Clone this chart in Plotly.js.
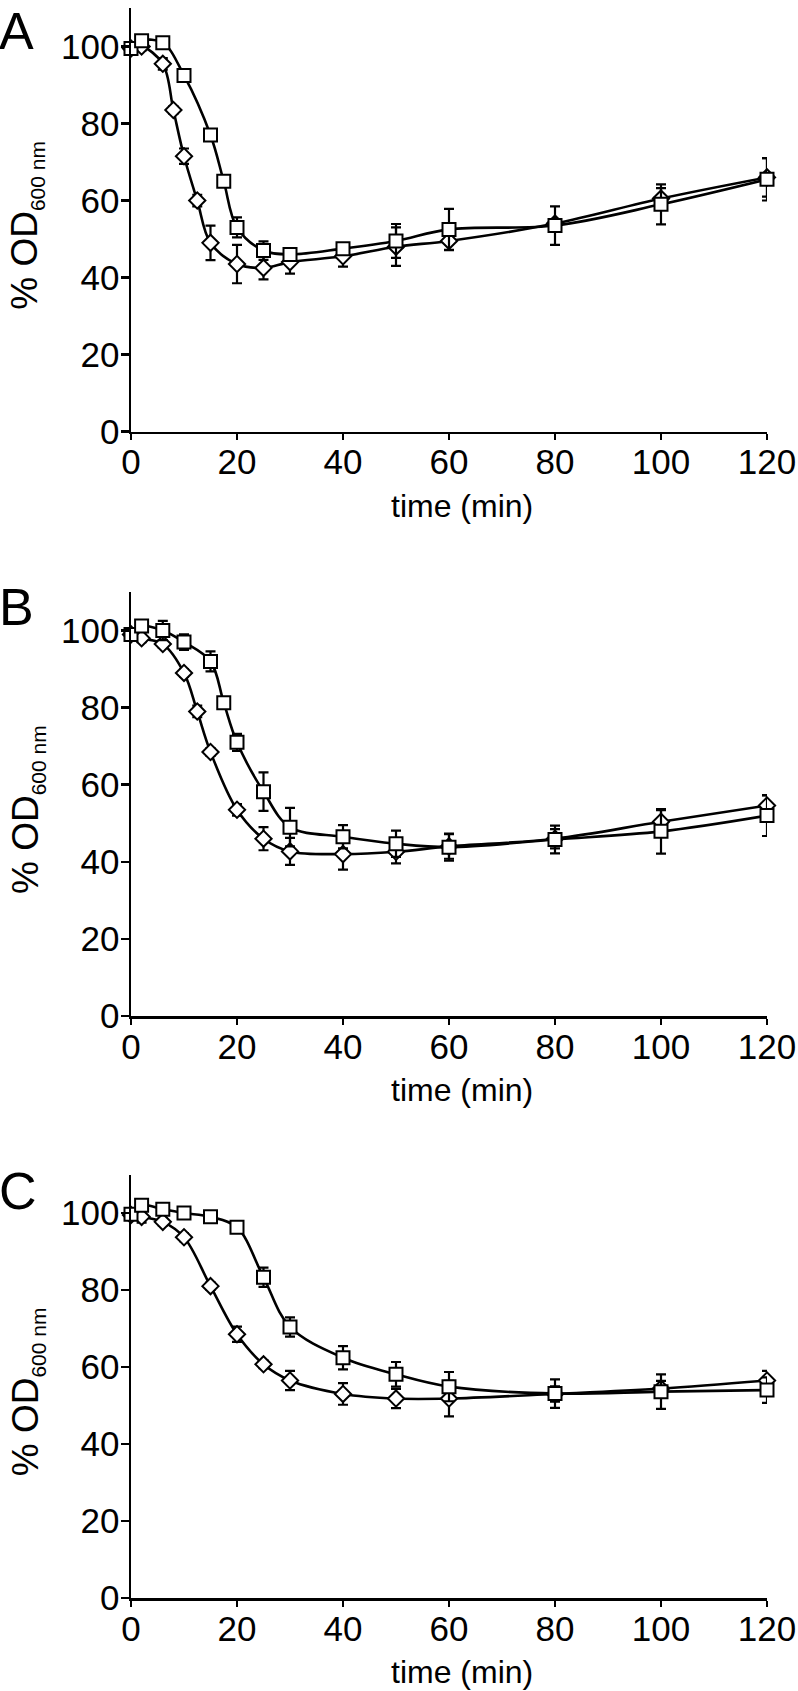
<!DOCTYPE html>
<html><head><meta charset="utf-8">
<script src="https://cdn.plot.ly/plotly-3.0.1.min.js"></script>
<style>html,body{margin:0;padding:0;background:#fff}#chart{width:798px;height:1691px}</style>
</head><body><div id="chart"></div>
<script>
// ---------- data ----------
const xTicks = [0, 20, 40, 60, 80, 100, 120];
const yTicks = [0, 20, 40, 60, 80, 100];
const panelLabels = ["A", "B", "C"];

// Panel A
const diamondA_t = [0, 2, 6, 8, 10, 12.5, 15, 20, 25, 30, 40, 50, 60, 80, 100, 120];
const diamondA_y = [99.5, 100, 95.5, 83.5, 71.5, 60, 49, 43.5, 42.5, 44, 45.5, 48, 49.5, 54, 60.5, 66];
const diamondA_e = [1.5, 1, 1.5, 1, 2, 1.5, 4.5, 5, 3, 3, 2.7, 5, 2.4, 1, 2.7, 5];
const squareA_t = [0, 2, 6, 10, 15, 17.5, 20, 25, 30, 40, 50, 60, 80, 100, 120];
const squareA_y = [99.5, 101.5, 101, 92.5, 77, 65, 53, 47, 46, 47.5, 49.5, 52.5, 53.5, 59, 65.5];
const squareA_e = [1, 1, 0.5, 0.5, 0.5, 0.5, 2.6, 2.4, 1.5, 1, 4.4, 5.3, 5, 5.2, 5.5];

// Panel B
const diamondB_t = [0, 2, 6, 10, 12.5, 15, 20, 25, 30, 40, 50, 60, 80, 100, 120];
const diamondB_y = [99, 98, 96.5, 89, 79, 68.5, 53.5, 46, 42.7, 42, 42.6, 44, 46, 50.4, 54.6];
const diamondB_e = [1, 1, 1, 1, 1.5, 1, 1.5, 3, 3.5, 4, 3, 3.2, 2.5, 3, 2.6];
const squareB_t = [0, 2, 6, 10, 15, 17.5, 20, 25, 30, 40, 50, 60, 80, 100, 120];
const squareB_y = [99, 101.2, 100, 97, 92, 81.3, 71, 58.2, 49, 46.5, 44.7, 43.8, 45.8, 47.9, 52];
const squareB_e = [0.8, 1, 2.5, 2, 2.6, 1, 2.2, 5, 5, 3, 3.4, 3.5, 3.6, 5.8, 5.3];

// Panel C
const diamondC_t = [0, 2, 6, 10, 15, 20, 25, 30, 40, 50, 60, 80, 100, 120];
const diamondC_y = [99.5, 99, 97.7, 93.7, 81, 68.5, 60.7, 56.5, 53, 51.8, 51.8, 53, 54.4, 56.5];
const diamondC_e = [1, 1.5, 1, 1, 1, 2, 1, 2.5, 2.8, 2.5, 4.6, 2, 2, 2.5];
const squareC_t = [0, 2, 6, 10, 15, 20, 25, 30, 40, 50, 60, 80, 100, 120];
const squareC_y = [99.7, 102, 101, 100, 99, 96.3, 83.3, 70.4, 62.4, 58.1, 54.9, 53.1, 53.6, 54];
const squareC_e = [0.5, 0.5, 0.5, 0.5, 0.5, 0.5, 2.5, 2.5, 3, 3.2, 3.8, 3.7, 4.5, 3.3];

const yTitleMain = "% OD";
const yTitleSub = "600 nm";
const xTitle = "time (min)";

// ---------- figure ----------
const FONT = "Liberation Sans, Arial, Helvetica, sans-serif";
const W = 798, H = 1691;
const M = {l: 131, r: 31, t: 8, b: 93};
const plotW = W - M.l - M.r, plotH = H - M.t - M.b;
const px2x = p => (p - M.l) / plotW;
const py2y = p => (H - M.b - p) / plotH;

const panels = [
  {top: 8, bottom: 431.5, letterTop: 1},
  {top: 592, bottom: 1016, letterTop: 577},
  {top: 1174.5, bottom: 1598, letterTop: 1161}
];

const series = [
  [diamondA_t, diamondA_y, diamondA_e, squareA_t, squareA_y, squareA_e],
  [diamondB_t, diamondB_y, diamondB_e, squareB_t, squareB_y, squareB_e],
  [diamondC_t, diamondC_y, diamondC_e, squareC_t, squareC_y, squareC_e]
];

const traces = [];
const layout = {
  width: W, height: H,
  margin: M,
  paper_bgcolor: "#fff", plot_bgcolor: "#fff",
  showlegend: false,
  font: {family: FONT, color: "#000", size: 35},
  annotations: []
};

series.forEach((s, i) => {
  const n = i === 0 ? "" : String(i + 1);
  const xa = "x" + n, ya = "y" + n;
  const common = {
    type: "scatter", mode: "lines+markers", xaxis: xa, yaxis: ya,
    cliponaxis: false,
    line: {color: "#000", width: 2.6, shape: "spline", smoothing: 1}
  };
  traces.push(Object.assign({}, common, {
    x: s[0], y: s[1],
    error_y: {type: "data", array: s[2], color: "#000", thickness: 2.2, width: 5},
    marker: {symbol: "diamond", size: 12.5, color: "#fff", line: {color: "#000", width: 2}}
  }));
  traces.push(Object.assign({}, common, {
    x: s[3], y: s[4],
    error_y: {type: "data", array: s[5], color: "#000", thickness: 2.2, width: 5},
    marker: {symbol: "square", size: 13, color: "#fff", line: {color: "#000", width: 2}}
  }));

  const p = panels[i];
  layout["xaxis" + n] = {
    domain: [0, 1], anchor: ya, range: [0, 120],
    tickmode: "array", tickvals: xTicks, ticktext: xTicks.map(String),
    showline: true, linecolor: "#000", linewidth: 2.5,
    ticks: "outside", ticklen: 6, tickwidth: 2.5, tickcolor: "#000",
    ticklabelstandoff: -8,
    showgrid: false, zeroline: false, fixedrange: true,
    tickfont: {family: FONT, size: 35, color: "#000"}
  };
  layout["yaxis" + n] = {
    domain: [py2y(p.bottom), py2y(p.top)], anchor: xa, range: [0, 110],
    tickmode: "array", tickvals: yTicks, ticktext: yTicks.map(String),
    showline: true, linecolor: "#000", linewidth: 2.5,
    ticks: "outside", ticklen: 8, tickwidth: 2.5, tickcolor: "#000",
    ticklabelstandoff: -6,
    showgrid: false, zeroline: false, fixedrange: true,
    tickfont: {family: FONT, size: 35, color: "#000"}
  };

  // panel letter
  layout.annotations.push({
    xref: "paper", yref: "paper", x: px2x(-2), y: py2y(p.letterTop),
    xanchor: "left", yanchor: "top", showarrow: false, borderpad: 0,
    text: panelLabels[i], font: {family: FONT, size: 52, color: "#000"}
  });
  // y title
  layout.annotations.push({
    xref: "paper", yref: "paper", x: px2x(27), y: py2y((p.top + p.bottom) / 2 + 6),
    xanchor: "center", yanchor: "middle", showarrow: false, textangle: -90,
    text: yTitleMain + "<sub><span style=\"font-size:21px\">" + yTitleSub + "</span></sub>",
    font: {family: FONT, size: 37, color: "#000"}
  });
  // x title
  layout.annotations.push({
    xref: "paper", yref: "paper", x: px2x(462), y: py2y(p.bottom + 74),
    xanchor: "center", yanchor: "middle", showarrow: false,
    text: xTitle, font: {family: FONT, size: 32, color: "#000"}
  });
});

Plotly.newPlot("chart", traces, layout, {displayModeBar: false, staticPlot: true});
</script>
</body></html>
